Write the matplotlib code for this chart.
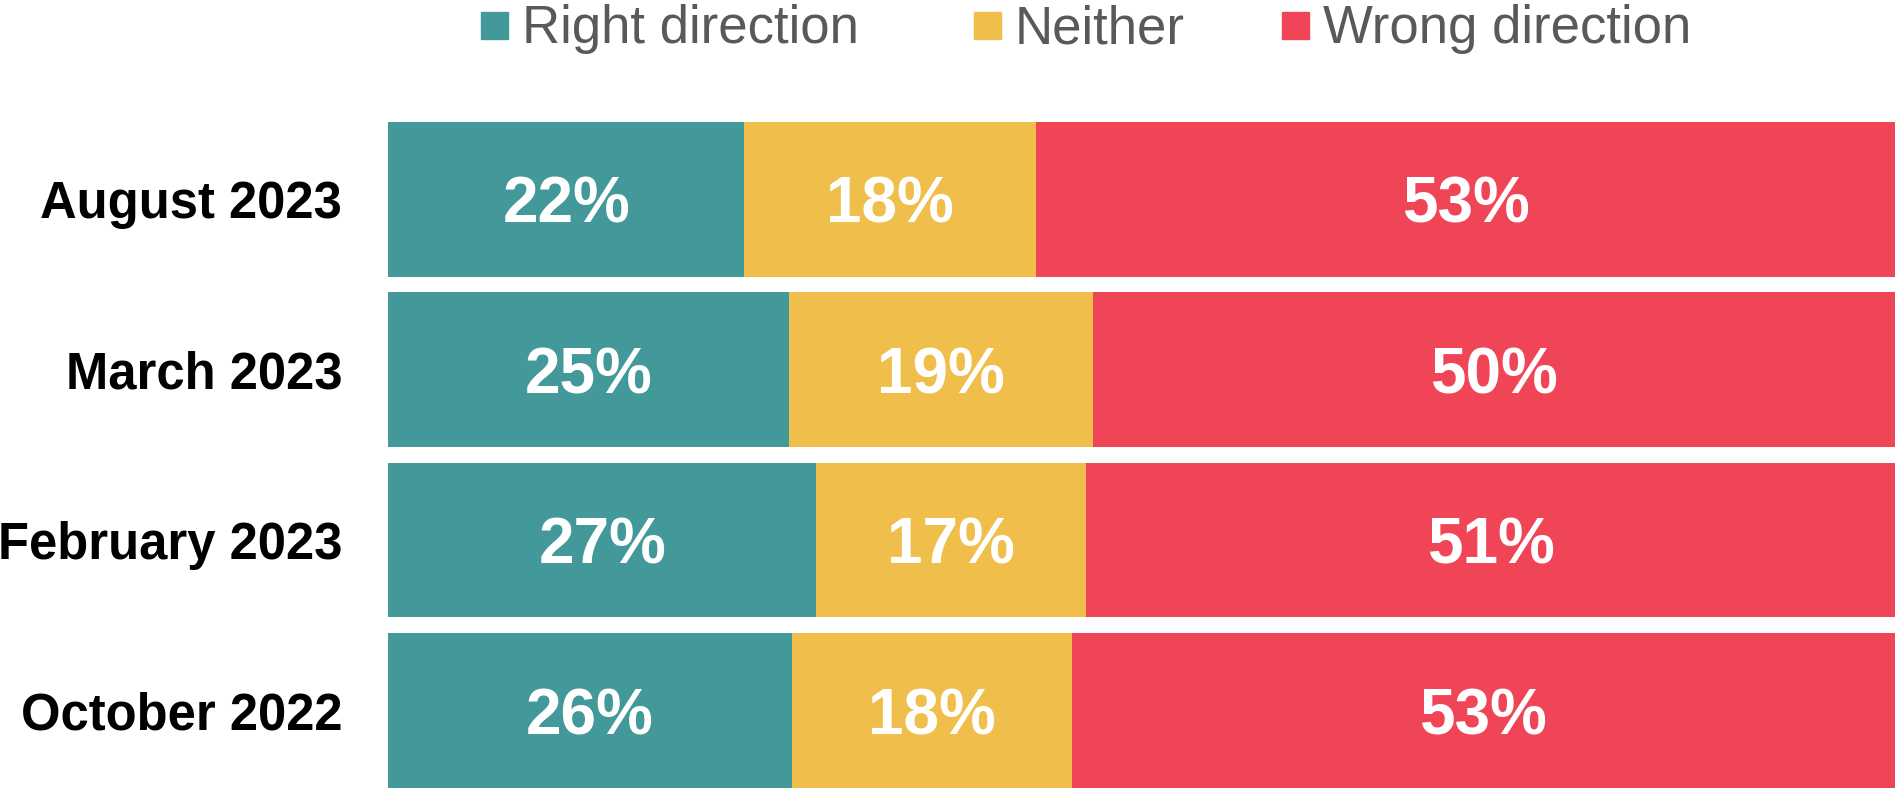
import matplotlib.pyplot as plt
from matplotlib.patches import Rectangle
import numpy as np

plt.rcParams['font.family'] = ['Liberation Sans', 'DejaVu Sans']

# data, top to bottom
periods = ['August 2023', 'March 2023', 'February 2023', 'October 2022']
right_dir = [22, 25, 27, 26]
neither = [18, 19, 17, 18]
wrong_dir = [53, 50, 51, 53]

series_names = ['Right direction', 'Neither', 'Wrong direction']
colors = ['#439999', '#F0BE4A', '#F04556']

W, H = 1895, 789
fig = plt.figure(figsize=(W / 100, H / 100), dpi=100)
ax = fig.add_axes([388 / W, 0, 1 - 388 / W, 1 - 122 / H])

vals = np.array([right_dir, neither, wrong_dir], dtype=float)
# bars fill the full width: shares are scaled to their own total
shares = vals / vals.sum(axis=0)
y = np.arange(len(periods))
left = np.zeros(len(periods))
for k in range(3):
    ax.barh(y, shares[k], left=left, height=0.907, color=colors[k])
    for i in range(len(periods)):
        ax.text(left[i] + shares[k][i] / 2, y[i], f'{int(vals[k][i])}%',
                ha='center', va='center_baseline', color='white', fontsize=46,
                fontweight='bold')
    left += shares[k]

ax.set_xlim(0, 1)
ax.set_ylim(3.46, -0.4535)
ax.set_yticks(y)
ax.set_yticklabels(periods, fontsize=36.5, fontweight='bold')
ax.tick_params(axis='y', length=0, pad=33)
ax.set_xticks([])
for s in ax.spines.values():
    s.set_visible(False)

# legend along the top
sq_x = [481, 974, 1282]
for k in range(3):
    fig.patches.append(Rectangle((sq_x[k] / W, 1 - 39 / H), 27 / W, 27 / H,
                                 transform=fig.transFigure, color=colors[k]))
    fig.text((sq_x[k] + 41) / W, 1 - 43 / H, series_names[k], fontsize=38,
             color='#595959', va='baseline', ha='left')

fig.savefig('out.png', dpi=100)
